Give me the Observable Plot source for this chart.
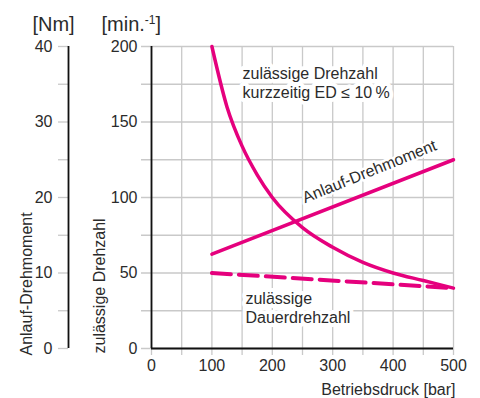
<!DOCTYPE html>
<html><head><meta charset="utf-8">
<script src="https://cdn.jsdelivr.net/npm/d3@7"></script>
<script src="https://cdn.jsdelivr.net/npm/@observablehq/plot@0.6"></script>
<style>body{margin:0;background:#fff}</style>
</head><body><div id="chart"></div>
<script>
// Data
const pressureShort = [100, 125, 150, 175, 200, 250, 300, 350, 400, 450, 500];
const speedShort    = [200, 160, 134, 115, 100, 80, 67, 57, 50, 45, 40];
const pressureTorque = [100, 500];
const torqueNm       = [12.5, 25];
const pressureCont = [100, 500];
const speedCont    = [50, 40];

const xTickLabels   = [0, 100, 200, 300, 400, 500];
const xGrid         = [0, 50, 100, 150, 200, 250, 300, 350, 400, 450, 500];
const speedTickLabels = [0, 50, 100, 150, 200];
const speedGrid     = [0, 25, 50, 75, 100, 125, 150, 175, 200];
const torqueTickLabels = [0, 10, 20, 30, 40];
const torqueMinor   = [0, 5, 10, 15, 20, 25, 30, 35, 40];

const NM_TO_SPEED = 200 / 40; // 40 Nm aligns with 200 min-1

const magenta = "#e5007d";
const gridColor = "#c9c9c9";
const textColor = "#2b2b2b";
const font = "Liberation Sans, Arial, sans-serif";

const shortData = pressureShort.map((p, i) => ({p, n: speedShort[i]}));
const torqueData = pressureTorque.map((p, i) => ({p, n: torqueNm[i] * NM_TO_SPEED}));
const contData = pressureCont.map((p, i) => ({p, n: speedCont[i]}));

const chart = Plot.plot({
  width: 480,
  height: 398,
  marginLeft: 151,
  marginRight: 27,
  marginTop: 46,
  marginBottom: 50,
  style: {fontFamily: font, background: "white", color: textColor},
  x: {domain: [0, 500], axis: null},
  y: {domain: [0, 200], axis: null},
  marks: [
    Plot.ruleX(xGrid, {stroke: gridColor, strokeWidth: 1.3, insetBottom: -7}),
    Plot.ruleY(speedGrid, {stroke: gridColor, strokeWidth: 1.3, insetLeft: -10}),
    Plot.axisY(torqueMinor.map(t => t * NM_TO_SPEED), {anchor: "left", tickSize: 10, dx: -83, stroke: gridColor, strokeWidth: 1.3, fill: "none", label: null}),
    Plot.axisY(speedTickLabels, {anchor: "left", tickSize: 0, tickPadding: 14, fontSize: 16, fill: textColor, label: null}),
    Plot.axisY(torqueTickLabels.map(t => t * NM_TO_SPEED), {anchor: "left", tickSize: 0, tickPadding: 16, dx: -83, fontSize: 16, fill: textColor, tickFormat: d => d / NM_TO_SPEED, label: null}),
    Plot.axisX(xTickLabels, {anchor: "bottom", tickSize: 0, tickPadding: 11, fontSize: 16, fill: textColor, label: null}),
    Plot.ruleX([0], {stroke: "#111", strokeWidth: 1.8}),
    Plot.ruleY([0], {stroke: "#111", strokeWidth: 1.8}),
    Plot.ruleX([0], {stroke: "#111", strokeWidth: 1.8, dx: -83}),
    Plot.text(["zulässige Drehzahl\nkurzzeitig ED ≤ 10\u202F%"], {x: 150.7, y: 187, textAnchor: "start", lineAnchor: "top", lineHeight: 1.15, fontSize: 16, fill: textColor, stroke: "white", strokeWidth: 8}),
    Plot.text(["zulässige\nDauerdrehzahl"], {x: 155.5, y: 38, textAnchor: "start", lineAnchor: "top", lineHeight: 1.15, fontSize: 16, fill: textColor, stroke: "white", strokeWidth: 8}),
    Plot.text(["Anlauf-Drehmoment"], {x: 364, y: 114, rotate: -22, textAnchor: "middle", lineAnchor: "bottom", fontSize: 16, fill: textColor, stroke: "white", strokeWidth: 5}),
    Plot.line(shortData, {x: "p", y: "n", curve: "monotone-x", stroke: magenta, strokeWidth: 3.5}),
    Plot.line(torqueData, {x: "p", y: "n", stroke: magenta, strokeWidth: 3.5}),
    Plot.line(contData, {x: "p", y: "n", stroke: magenta, strokeWidth: 4, strokeDasharray: "19,8"}),
    Plot.text(["Anlauf-Drehmoment"], {frameAnchor: "bottom-left", dx: -120, dy: 7, rotate: -90, textAnchor: "start", lineAnchor: "bottom", fontSize: 16, fill: textColor}),
    Plot.text(["zulässige Drehzahl"], {frameAnchor: "bottom-left", dx: -47, dy: 5, rotate: -90, textAnchor: "start", lineAnchor: "bottom", fontSize: 16, fill: textColor}),
    Plot.text(["[Nm]"], {frameAnchor: "top-left", dx: -98, dy: -16, textAnchor: "middle", lineAnchor: "bottom", fontSize: 20, fill: textColor}),
    Plot.text(["[min.-1]"], {frameAnchor: "top-left", dx: -50, dy: -16, textAnchor: "start", lineAnchor: "bottom", fontSize: 20, fill: textColor}),
    Plot.text(["Betriebsdruck [bar]"], {frameAnchor: "bottom-right", dx: 2, dy: 46, textAnchor: "end", lineAnchor: "bottom", fontSize: 16, fill: textColor})
  ]
});

chart.querySelectorAll("text").forEach(el => {
  if (el.textContent === "[min.-1]") {
    const ns = "http://www.w3.org/2000/svg";
    el.textContent = "";
    el.appendChild(document.createTextNode("[min."));
    const sup = document.createElementNS(ns, "tspan");
    sup.setAttribute("font-size", "12");
    sup.setAttribute("dy", "-7");
    sup.textContent = "-1";
    el.appendChild(sup);
    const close = document.createElementNS(ns, "tspan");
    close.setAttribute("dy", "7");
    close.textContent = "]";
    el.appendChild(close);
  }
});

document.getElementById("chart").appendChild(chart);
</script>
</body></html>
